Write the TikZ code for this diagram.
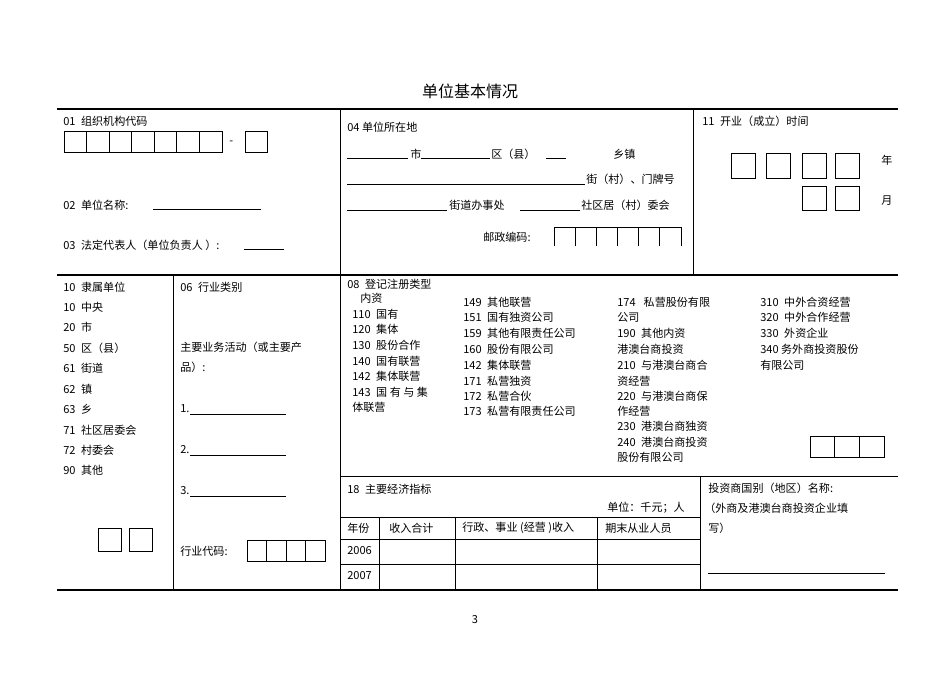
\documentclass[tikz,border=0pt]{standalone}
\usepackage{fontspec}
\setmainfont{Liberation Sans}
\newfontfamily\cjk{Noto Sans CJK SC}
\begin{document}
\begin{tikzpicture}[x=0.75pt,y=-0.75pt,
  lbl/.style={anchor=west,inner sep=0pt,font=\cjk\fontsize{8.3pt}{9pt}\selectfont},
  thick line/.style={line width=1.3pt},
  thin line/.style={line width=0.6pt},
  bx/.style={draw,line width=0.6pt}]
\useasboundingbox (0,0) rectangle (950,674);
\node[inner sep=0pt,font=\cjk\fontsize{12pt}{14pt}\selectfont] (title) at (470,91) {单位基本情况};
% frame
\draw[thick line] (57,109) -- (898,109);
\draw[thick line] (57,275) -- (898,275);
\draw[thick line] (57,590) -- (898,590);
\draw[thin line] (340,109) -- (340,590);
\draw[thin line] (693,109) -- (693,275);
\draw[thin line] (173,275) -- (173,590);
\draw[thin line] (340,476) -- (898,476);
\draw[thin line] (700,476) -- (700,590);
\draw[thin line] (340,517) -- (700,517);
\draw[thin line] (340,539) -- (700,539);
\draw[thin line] (340,564) -- (700,564);
\foreach \x in {379,455,597} \draw[thin line] (\x,517) -- (\x,590);
% 01
\node[lbl] (n01) at (63,121) {01\enspace 组织机构代码};
\foreach \i in {0,...,6} \draw[bx] (64+\i*22.57,131) rectangle ++(22.57,21);
\node[lbl] (dash) at (229,143) {-};
\draw[bx] (245,131) rectangle (267,152);
\node[lbl] (n02) at (63,205) {02\enspace 单位名称:};
\draw[thin line] (153,209) -- (261,209);
\node[lbl] (n03) at (63,245) {03\enspace 法定代表人（单位负责人 ）:};
\draw[thin line] (244,249) -- (284,249);
% 04
\node[lbl] (n04) at (347,127) {04 单位所在地};
\draw[thin line] (347,158) -- (408,158);
\node[lbl] (shi) at (410,154) {市};
\draw[thin line] (421,158) -- (490,158);
\node[lbl] (qu) at (491,154) {区（县）};
\draw[thin line] (546,158) -- (566,158);
\node[lbl] (xz) at (613,154) {乡镇};
\draw[thin line] (347,184) -- (585,184);
\node[lbl] (jie) at (586,179) {街（村）、门牌号};
\draw[thin line] (347,210) -- (447,210);
\node[lbl] (jd) at (449,205) {街道办事处};
\draw[thin line] (520,210) -- (580,210);
\node[lbl] (sq) at (581,205) {社区居（村）委会};
\node[lbl] (yz) at (483,237) {邮政编码:};
\draw[thin line] (554,227) -- (681,227);
\foreach \i in {0,...,6} \draw[thin line] (554+\i*21.17,227) -- (554+\i*21.17,246);
% 11
\node[lbl] (n11) at (702,121) {11\enspace 开业（成立）时间};
\foreach \x in {731,766,802,835} \draw[bx] (\x,153) rectangle ++(24,25);
\foreach \x in {802,835} \draw[bx] (\x,186) rectangle ++(24,24);
\node[lbl] (nian) at (881,160) {年};
\node[lbl] (yue) at (881,201) {月};
% 10
\foreach \t/\y [count=\k] in {10\enspace 隶属单位/287,10\enspace 中央/307,20\enspace 市/327,50\enspace 区（县）/348,61\enspace 街道/368,62\enspace 镇/389,63\enspace 乡/409,71\enspace 社区居委会/430,72\enspace 村委会/450,90\enspace 其他/470}
  \node[lbl] (l\k) at (63,\y) {\t};
\draw[bx] (98,528) rectangle (121,551);
\draw[bx] (129,528) rectangle (152,551);
% 06
\node[lbl] (n06) at (180,287) {06\enspace 行业类别};
\node[lbl] (zy1) at (180,347) {主要业务活动（或主要产};
\node[lbl] (zy2) at (180,367) {品）:};
\foreach \n/\y in {1/409,2/450,3/491} {
  \node[lbl] (p\n) at (180,\y) {\n.};
  \draw[thin line] (190,\y+5) -- (286,\y+5);}
\node[lbl] (hy) at (180,551) {行业代码:};
\foreach \i in {0,...,3} \draw[bx] (247+\i*19.5,540) rectangle ++(19.5,21);
% 08
\node[lbl] (n08) at (347,284) {08\enspace 登记注册类型};
\node[lbl] (nz) at (360,298) {内资};
\foreach \t/\y [count=\k] in {110\enspace 国有/314,120\enspace 集体/329,130\enspace 股份合作/345,140\enspace 国有联营/361,142\enspace 集体联营/376,143\enspace 国 有 与 集/392,体联营/407}
  \node[lbl] (a\k) at (352,\y) {\t};
\foreach \t/\y [count=\k] in {149\enspace 其他联营/302,151\enspace 国有独资公司/317,159\enspace 其他有限责任公司/333,160\enspace 股份有限公司/349,142\enspace 集体联营/365,171\enspace 私营独资/381,172\enspace 私营合伙/396,173\enspace 私营有限责任公司/411}
  \node[lbl] (b\k) at (463,\y) {\t};
\foreach \t/\y [count=\k] in {174\enspace\ 私营股份有限/302,公司/317,190\enspace 其他内资/333,港澳台商投资/349,210\enspace 与港澳台商合/365,资经营/381,220\enspace 与港澳台商保/396,作经营/411,230\enspace 港澳台商独资/426,240\enspace 港澳台商投资/442,股份有限公司/457}
  \node[lbl] (c\k) at (617,\y) {\t};
\foreach \t/\y [count=\k] in {310\enspace 中外合资经营/302,320\enspace 中外合作经营/317,330\enspace 外资企业/333,340 务外商投资股份/349,有限公司/365}
  \node[lbl] (d\k) at (760,\y) {\t};
\foreach \i in {0,...,2} \draw[bx] (810+\i*24.7,436) rectangle ++(24.7,21);
% 18
\node[lbl] (n18) at (347,489) {18\enspace 主要经济指标};
\node[lbl,anchor=east] (dw) at (685,508) {单位：千元；人};
\node[lbl] (h1) at (347,528) {年份};
\node[lbl] (h2) at (389,528) {收入合计};
\node[lbl] (h3) at (462,528) {行政、事业 (经营 )收入};
\node[lbl] (h4) at (605,528) {期末从业人员};
\node[lbl] (y6) at (347,551) {2006};
\node[lbl] (y7) at (347,576) {2007};
\node[lbl] (tz1) at (708,488) {投资商国别（地区）名称:};
\node[lbl] (tz2) at (704,508) {（外商及港澳台商投资企业填};
\node[lbl] (tz3) at (708,528) {写）};
\draw[thin line] (708,573) -- (885,573);
\node[lbl,anchor=center] (pg) at (475,620) {3};
\end{tikzpicture}
\end{document}
